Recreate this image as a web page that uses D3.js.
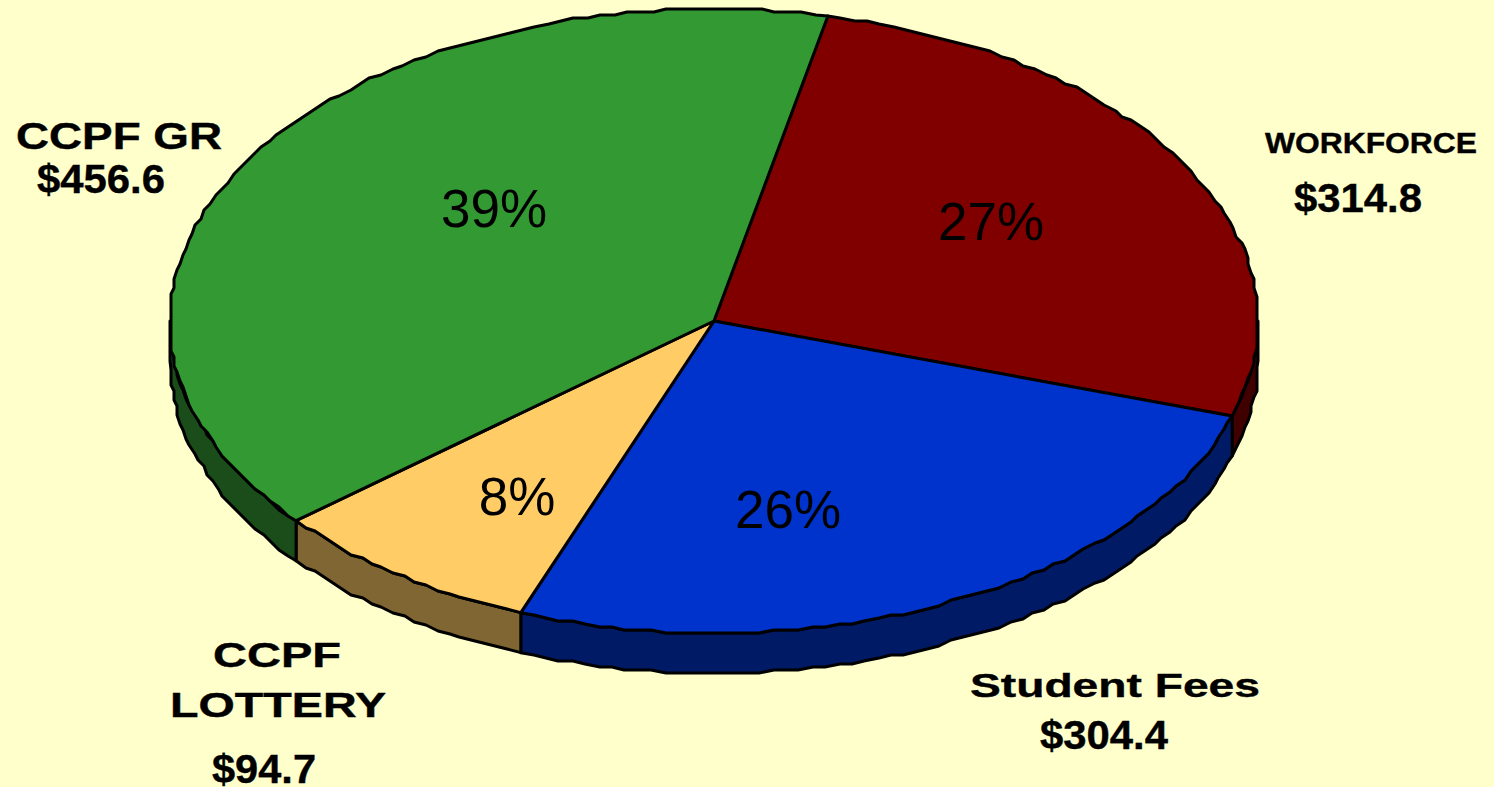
<!DOCTYPE html>
<html>
<head>
<meta charset="utf-8">
<script src="https://d3js.org/d3.v7.min.js"></script>
<style>
html, body { margin: 0; padding: 0; background: #ffffcc; overflow: hidden; }
text { font-family: "Liberation Sans", Arial, sans-serif; fill: #000; }
</style>
</head>
<body>
<svg id="chart"></svg>
<script>
// chart data, clockwise from the green/red boundary
var categories = ["WORKFORCE", "Student Fees", "CCPF LOTTERY", "CCPF GR"];
var amounts = [314.8, 304.4, 94.7, 456.6];
var amountLabels = ["$314.8", "$304.4", "$94.7", "$456.6"];
var percentLabels = ["27%", "26%", "8%", "39%"];
var topColors = ["#800000", "#0033cc", "#ffcc66", "#339933"];
var sideColors = ["#400000", "#001a66", "#806633", "#1a4d1a"];

var w = 1494;
var h = 787;
var cx = 714;
var cy = 321;
var rx = 544;
var ry = 312;
var depth = 40;
var startDeg = 11.2;
var tiltWarp = 0.9 * Math.PI / 180; // far side of the tilted pie is slightly squeezed
var grid = 3; // the original outline is stepped, snap rim points to a coarse grid

var svg = d3.select("#chart").attr("width", w).attr("height", h);

svg.append("rect")
    .attr("width", w).attr("height", h)
    .attr("fill", "#ffffcc");

var x = d3.scaleLinear().domain([-1, 1]).range([cx - rx, cx + rx]);
var y = d3.scaleLinear().domain([-1, 1]).range([cy - ry, cy + ry]);

var start = startDeg * Math.PI / 180;
var slices = d3.pie()
    .sort(null)
    .startAngle(start)
    .endAngle(start + 2 * Math.PI)(amounts);

var line = d3.line();

// Points along the rim between two angles (0 = top, clockwise)
var rim = function(a0, a1) {
    var n = Math.max(2, Math.ceil((a1 - a0) / 0.025));
    return d3.range(n + 1).map(function(i) {
        var a = a0 + (a1 - a0) * i / n;
        a = a + tiltWarp * Math.cos(a);
        var px = x(Math.sin(a));
        var py = y(-Math.cos(a));
        if (i > 0 && i < n) {
            px = Math.round(px / grid) * grid;
            py = Math.round(py / grid) * grid;
        }
        return [px, py];
    });
};

// Side walls, only the front half of the rim shows
var sides = svg.append("g");
slices.forEach(function(d, i) {
    var a0 = Math.max(d.startAngle, Math.PI / 2);
    var a1 = Math.min(d.endAngle, 3 * Math.PI / 2);
    if (a1 <= a0) return;
    var upper = rim(a0, a1);
    var lower = upper.map(function(p) {
        return [p[0], p[1] + depth];
    }).reverse();
    sides.append("path")
        .attr("d", line(upper.concat(lower)) + "Z")
        .attr("fill", sideColors[i])
        .attr("stroke", "#000")
        .attr("stroke-width", 3)
        .attr("stroke-linejoin", "round");
});

// Top faces
var tops = svg.append("g");
slices.forEach(function(d, i) {
    var pts = [[x(0), y(0)]].concat(rim(d.startAngle, d.endAngle));
    tops.append("path")
        .attr("d", line(pts) + "Z")
        .attr("fill", topColors[i])
        .attr("stroke", "#000")
        .attr("stroke-width", 3)
        .attr("stroke-linejoin", "round");
});

// Percent labels
var percentPos = [[991, 240], [788, 528], [517, 515], [494, 227]];
percentLabels.forEach(function(t, i) {
    svg.append("text")
        .attr("x", percentPos[i][0])
        .attr("y", percentPos[i][1])
        .attr("text-anchor", "middle")
        .attr("font-size", 53)
        .text(t);
});

// Outside labels: text, left edge, baseline, width, font size
var nameRows = [
    [categories[0], 1265, 153, 212, 29],
    [amountLabels[0], 1294, 212, 128, 41],
    [categories[1], 970, 697, 290, 34],
    [amountLabels[1], 1040, 749, 128, 41],
    ["CCPF", 213, 667, 128, 35],
    ["LOTTERY", 170, 717, 216, 35],
    [amountLabels[2], 212, 783, 104, 41],
    ["CCPF GR", 16, 149, 206, 36],
    [amountLabels[3], 37, 193, 128, 41]
];
nameRows.forEach(function(r) {
    svg.append("text")
        .attr("x", r[1])
        .attr("y", r[2])
        .attr("textLength", r[3])
        .attr("lengthAdjust", "spacingAndGlyphs")
        .attr("font-size", r[4])
        .attr("font-weight", "bold")
        .attr("stroke", "#000")
        .attr("stroke-width", 0.4)
        .text(r[0]);
});
</script>
</body>
</html>
